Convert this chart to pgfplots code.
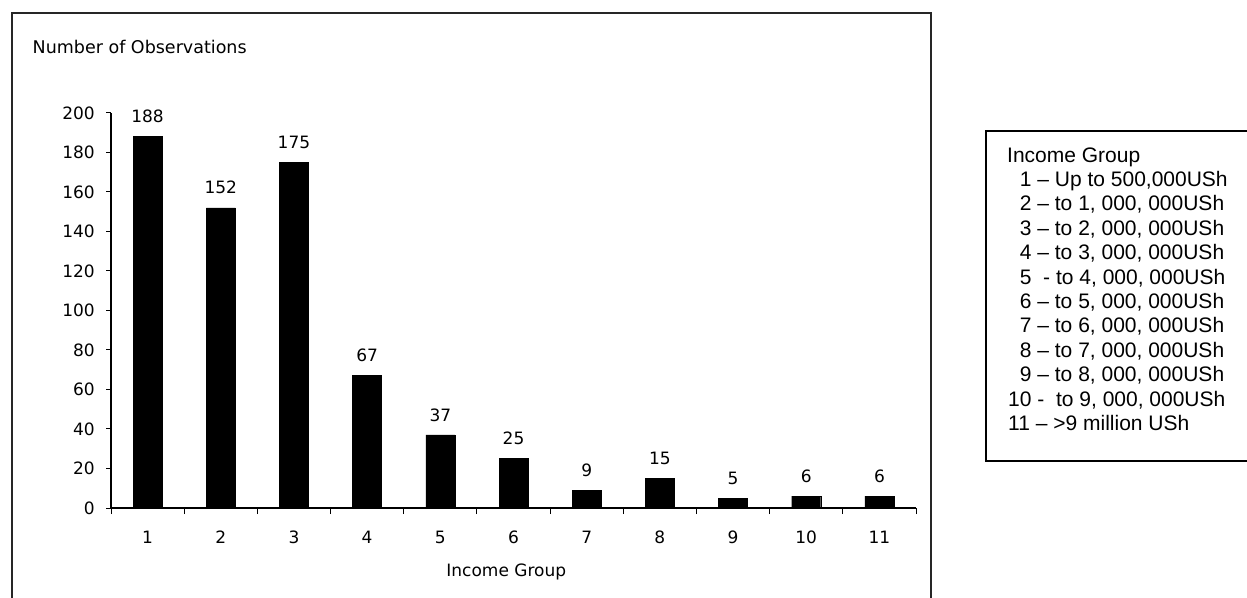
\documentclass[border=0pt]{standalone}
\usepackage{pgfplots}
\pgfplotsset{compat=1.18}
\usepackage{fontspec}
\newfontfamily\chartfont{DejaVu Sans}
\newfontfamily\legfont{Liberation Sans}
\begin{document}
\begin{tikzpicture}[x=1pt,y=1pt]
\path[use as bounding box] (0,0) rectangle (1247,597);
\draw[line width=1.6pt, black!85] (12,-5) -- (12,584) -- (931,584) -- (931,-5);
\begin{axis}[
  at={(111pt,89pt)}, anchor=south west,
  scale only axis, width=805pt, height=395pt,
  xmin=0.5, xmax=11.5, ymin=0, ymax=200,
  axis x line=bottom, axis y line=left,
  axis line style={-, line width=1.2pt},
  ybar, bar width=29pt,
  xtick={1,2,3,4,5,6,7,8,9,10,11},
  minor xtick={0.5,1.5,2.5,3.5,4.5,5.5,6.5,7.5,8.5,9.5,10.5,11.5},
  major x tick style={draw=none},
  minor x tick style={line width=1pt, black},
  minor tick length=6pt,
  ytick={0,20,40,60,80,100,120,140,160,180,200},
  y tick style={line width=1pt, black},
  major tick length=5pt,
  tick align=outside,
  /pgf/number format/assume math mode=true,
  tick label style={font=\chartfont\fontsize{17}{20}\selectfont},
  yticklabel style={anchor=east, inner sep=0pt, xshift=-11pt},
  xticklabel style={anchor=center, inner sep=0pt, yshift=-24pt},
  xlabel={Income Group},
  xlabel style={font=\chartfont\fontsize{17}{20}\selectfont, at={(axis description cs:0.491,-0.162)}, anchor=center},
  ylabel={Number of Observations},
  ylabel style={font=\chartfont\fontsize{17.5}{20}\selectfont, rotate=-90, at={(axis description cs:-0.0975,1.167)}, anchor=west, inner sep=0pt},
  nodes near coords,
  every node near coord/.append style={font=\chartfont\fontsize{17}{20}\selectfont, anchor=center, inner sep=0pt, yshift=20pt},
]
\addplot[fill=black, draw=black] coordinates {
(1,188) (2,152) (3,175) (4,67) (5,37) (6,25) (7,9) (8,15) (9,5) (10,6) (11,6)
};
\end{axis}
\draw[line width=1.6pt] (1262,466) -- (986,466) -- (986,136) -- (1262,136);
\begin{scope}[every node/.style={anchor=base west, inner sep=0pt, font=\legfont\fontsize{21}{24}\selectfont}]
\node at (1007,434.5) {Income Group};
\node at (1008,410.5) {\hphantom{0}1 – Up to 500,000USh};
\node at (1008,386.1) {\hphantom{0}2 – to 1, 000, 000USh};
\node at (1008,361.7) {\hphantom{0}3 – to 2, 000, 000USh};
\node at (1008,337.3) {\hphantom{0}4 – to 3, 000, 000USh};
\node at (1008,312.9) {\hphantom{0}5\ \ - to 4, 000, 000USh};
\node at (1008,288.5) {\hphantom{0}6 – to 5, 000, 000USh};
\node at (1008,264.1) {\hphantom{0}7 – to 6, 000, 000USh};
\node at (1008,239.7) {\hphantom{0}8 – to 7, 000, 000USh};
\node at (1008,215.3) {\hphantom{0}9 – to 8, 000, 000USh};
\node at (1008,190.9) {10 -\ \ to 9, 000, 000USh};
\node at (1008,166.5) {11 – >9 million USh};
\end{scope}
\end{tikzpicture}
\end{document}
